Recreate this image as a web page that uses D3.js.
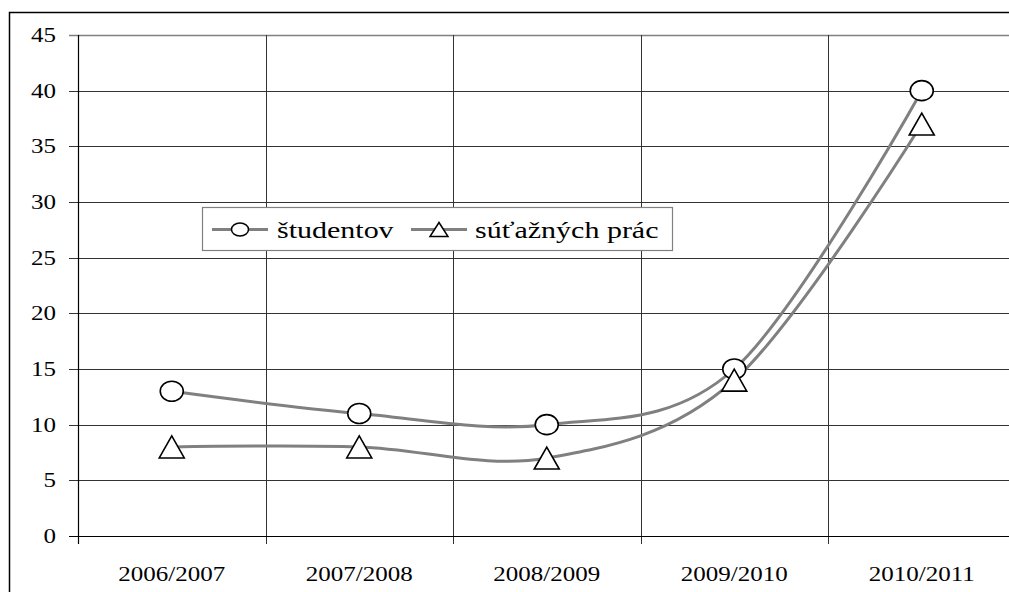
<!DOCTYPE html>
<html>
<head>
<meta charset="utf-8">
<script src="https://cdn.jsdelivr.net/npm/d3@7"></script>
<style>
  body { margin: 0; background: #fff; }
  svg { display: block; }
</style>
</head>
<body>
<svg id="chart" width="1009" height="592"></svg>
<script>
var years = ['2006/2007', '2007/2008', '2008/2009', '2009/2010', '2010/2011'];
var studentov = [13, 11, 10, 15, 40];
var prace = [8, 8, 7, 14, 37];
var yTicks = [0, 5, 10, 15, 20, 25, 30, 35, 40, 45];
var seriesNames = ['študentov', 'súťažných prác'];

var svg = d3.select('#chart');
var stretch = 1.25; // text in the picture is wider than it is tall

var plot = { left: 78, top: 35, bottom: 536, right: 1015.5 };

var x = d3.scaleBand().domain(years).range([plot.left, plot.right]);
var y = d3.scaleLinear().domain([0, 45]).range([plot.bottom, plot.top]);

function label(g, tx, ty, str, size, anchor) {
	return g.append('text')
		.attr('transform', 'translate(' + tx + ',' + ty + ') scale(' + stretch + ',1)')
		.attr('text-anchor', anchor)
		.style('font-family', 'Liberation Serif')
		.attr('font-size', size)
		.attr('fill', '#000')
		.text(str);
}

// outer frame (cut off right and bottom)
svg.append('path')
	.attr('d', 'M9.5,600 L9.5,12.5 L1020,12.5')
	.attr('fill', 'none').attr('stroke', '#000').attr('stroke-width', 1.5);

// horizontal grid
svg.append('g').selectAll('line').data(yTicks.slice(1)).enter().append('line')
	.attr('x1', plot.left - 9).attr('x2', plot.right)
	.attr('y1', function(d) { return Math.round(y(d)) + 0.5 })
	.attr('y2', function(d) { return Math.round(y(d)) + 0.5 })
	.attr('stroke', function(d) { return d === 45 ? '#808080' : '#333' })
	.attr('stroke-width', function(d) { return d === 45 ? 1.5 : 1 });

// vertical grid at category boundaries
var bounds = years.map(function(d) { return x(d) }).concat([plot.right]);
svg.append('g').selectAll('line').data(bounds.slice(1)).enter().append('line')
	.attr('x1', function(d) { return Math.round(d) + 0.5 })
	.attr('x2', function(d) { return Math.round(d) + 0.5 })
	.attr('y1', plot.top).attr('y2', plot.bottom + 8)
	.attr('stroke', '#333').attr('stroke-width', 1);

// axes
var axes = svg.append('g');
axes.append('line').attr('x1', plot.left + 0.5).attr('x2', plot.left + 0.5)
	.attr('y1', plot.top).attr('y2', plot.bottom + 8)
	.attr('stroke', '#000').attr('stroke-width', 1.2);
axes.append('line').attr('x1', plot.left - 9).attr('x2', plot.right)
	.attr('y1', plot.bottom + 0.5).attr('y2', plot.bottom + 0.5)
	.attr('stroke', '#000').attr('stroke-width', 1.2);

yTicks.forEach(function(t) {
	label(axes, 56, y(t) + 7, String(t), 20, 'end');
});
years.forEach(function(c) {
	label(axes, x(c) + x.bandwidth() / 2, 581, c, 20, 'middle');
});

// lines
var line = d3.line()
	.x(function(d, i) { return x(years[i]) + x.bandwidth() / 2 })
	.y(function(d) { return y(d) })
	.curve(d3.curveCatmullRom.alpha(0));

var lines = svg.append('g');
[studentov, prace].forEach(function(s) {
	lines.append('path').attr('d', line(s))
		.attr('fill', 'none').attr('stroke', '#808080').attr('stroke-width', 3)
		.attr('stroke-linejoin', 'round');
});

function triPath(cx, cy, w, h) {
	return 'M' + cx + ',' + (cy - h / 2) + ' L' + (cx + w / 2) + ',' + (cy + h / 2) +
		' L' + (cx - w / 2) + ',' + (cy + h / 2) + 'Z';
}

var marks = svg.append('g');
marks.selectAll('ellipse').data(studentov).enter().append('ellipse')
	.attr('cx', function(d, i) { return x(years[i]) + x.bandwidth() / 2 })
	.attr('cy', function(d) { return y(d) })
	.attr('rx', 11.5).attr('ry', 10)
	.attr('fill', '#fff').attr('stroke', '#000').attr('stroke-width', 1.6);
marks.selectAll('path').data(prace).enter().append('path')
	.attr('d', function(d, i) { return triPath(x(years[i]) + x.bandwidth() / 2, y(d), 25, 22) })
	.attr('fill', '#fff').attr('stroke', '#000').attr('stroke-width', 1.6)
	.attr('stroke-linejoin', 'miter');

// legend
var legend = svg.append('g');
legend.append('rect').attr('x', 202.5).attr('y', 207.5).attr('width', 470).attr('height', 43)
	.attr('fill', '#fff').attr('stroke', '#808080').attr('stroke-width', 1.2);

var items = [
	{ name: seriesNames[0], x0: 212, x1: 268, tx: 277, shape: 'circle' },
	{ name: seriesNames[1], x0: 411, x1: 467, tx: 475, shape: 'triangle' }
];
items.forEach(function(it) {
	var cy = 229.5, cx = (it.x0 + it.x1) / 2;
	legend.append('line').attr('x1', it.x0).attr('x2', it.x1).attr('y1', cy).attr('y2', cy)
		.attr('stroke', '#808080').attr('stroke-width', 3);
	if (it.shape === 'circle') {
		legend.append('ellipse').attr('cx', cx).attr('cy', cy).attr('rx', 8.5).attr('ry', 6.5)
			.attr('fill', '#fff').attr('stroke', '#000').attr('stroke-width', 1.5);
	} else {
		legend.append('path').attr('d', triPath(cx, cy, 18, 14))
			.attr('fill', '#fff').attr('stroke', '#000').attr('stroke-width', 1.5);
	}
	label(legend, it.tx, 238, it.name, 24, 'start');
});
</script>
</body>
</html>
